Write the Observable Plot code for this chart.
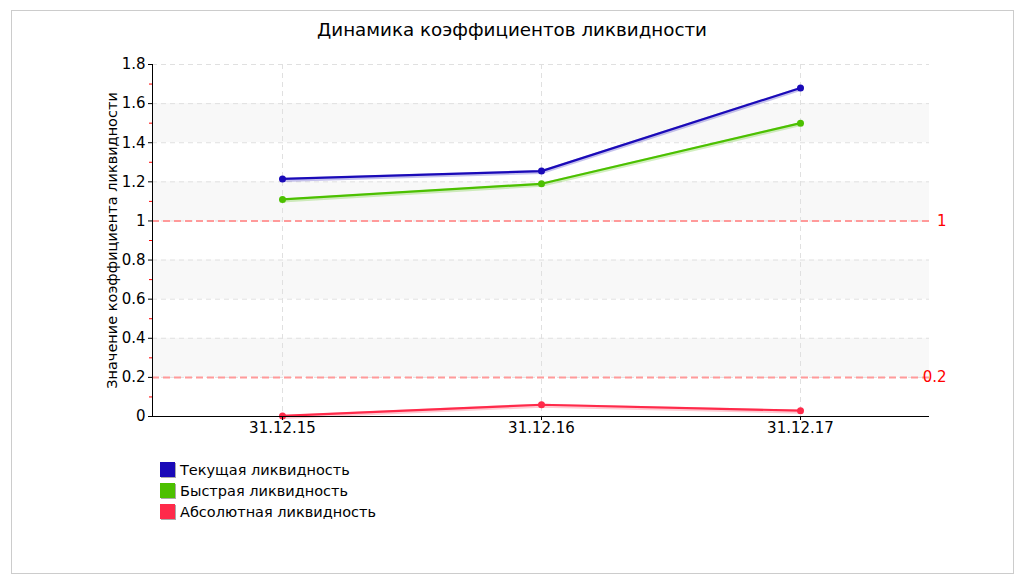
<!DOCTYPE html>
<html><head><meta charset="utf-8">
<script src="https://cdn.jsdelivr.net/npm/d3@7"></script>
<script src="https://cdn.jsdelivr.net/npm/@observablehq/plot@0.6"></script>
<style>
body{margin:0;background:#fff;font-family:"DejaVu Sans",sans-serif;}
#wrap{position:relative;width:1024px;height:584px;overflow:hidden;}
#border{position:absolute;left:11px;top:10px;width:1001px;height:562px;border:1px solid #ccc;}
#title{position:absolute;left:0;top:19px;width:1024px;text-align:center;font-size:18.3px;color:#000;}
#chart{position:absolute;left:0;top:0;}
#legend{position:absolute;left:160px;top:459px;font-size:14.5px;color:#000;}
.item{height:21px;display:flex;align-items:center;}
.sw{width:15px;height:15px;margin-right:5px;box-shadow:1px 1px 0 #aaa;}
</style></head>
<body><div id="wrap"><div id="border"></div><div id="title"></div><div id="chart"></div><div id="legend"></div></div>
<script>
const title = "Динамика коэффициентов ликвидности";
const yLabel = "Значение коэффициента ликвидности";
const dates = ["31.12.15", "31.12.16", "31.12.17"];
const seriesNames = ["Текущая ликвидность", "Быстрая ликвидность", "Абсолютная ликвидность"];
const seriesColors = ["#1a0ab8", "#4cc000", "#ff2a4a"];
const currentRatio = [1.215, 1.255, 1.68];
const quickRatio = [1.11, 1.19, 1.50];
const absoluteRatio = [0.003, 0.06, 0.03];
const thresholds = [1, 0.2];
const thresholdLabels = ["1", "0.2"];
const yTicks = [0, 0.2, 0.4, 0.6, 0.8, 1, 1.2, 1.4, 1.6, 1.8];
const yMinorTicks = [0.1, 0.3, 0.5, 0.7, 0.9, 1.1, 1.3, 1.5, 1.7];
const bands = [[0.2, 0.4], [0.6, 0.8], [1.0, 1.2], [1.4, 1.6]];

const allSeries = [currentRatio, quickRatio, absoluteRatio];
const data = [];
allSeries.forEach((vals, i) => vals.forEach((v, j) => data.push({series: seriesNames[i], date: dates[j], value: v})));

document.getElementById("title").textContent = title;
const leg = document.getElementById("legend");
seriesNames.forEach((n, i) => {
  const d = document.createElement("div"); d.className = "item";
  d.innerHTML = `<span class="sw" style="background:${seriesColors[i]}"></span><span>${n}</span>`;
  leg.appendChild(d);
});

const fmt = d => String(+d.toFixed(1));
const plot = Plot.plot({
  width: 1024, height: 584,
  marginLeft: 152, marginRight: 95, marginTop: 64, marginBottom: 168,
  style: {fontFamily: "DejaVu Sans, sans-serif", fontSize: "15px", color: "#000", background: "transparent"},
  x: {type: "point", domain: dates, padding: 0.5},
  y: {domain: [0, 1.8]},
  color: {domain: seriesNames, range: seriesColors},
  marks: [
    Plot.rect(bands, {y1: d => d[0], y2: d => d[1], fill: "#f8f8f8"}),
    Plot.gridY(yTicks, {stroke: "#e0e0e0", strokeOpacity: 1, strokeDasharray: "5,4"}),
    Plot.gridX(dates, {stroke: "#e0e0e0", strokeOpacity: 1, strokeDasharray: "5,4"}),
    Plot.ruleY(thresholds, {stroke: "#ff9a9a", strokeWidth: 2, strokeDasharray: "7,4"}),
    Plot.text(thresholds, {y: d => d, text: (d, i) => thresholdLabels[i], frameAnchor: "right", textAnchor: "end", dx: 17, fill: "#ff0000", fontSize: 15}),
    Plot.line(data, {x: "date", y: "value", z: "series", stroke: "series", strokeWidth: 4, strokeOpacity: 0.25, dy: 1}),
    Plot.line(data, {x: "date", y: "value", z: "series", stroke: "series", strokeWidth: 2.2}),
    Plot.dot(data, {x: "date", y: "value", fill: "series", r: 3.5}),
    Plot.axisY({ticks: yMinorTicks, tickFormat: () => "", tickSize: 3, stroke: "#ff0000", label: null}),
    Plot.axisY({ticks: yTicks, tickFormat: fmt, tickSize: 4, tickPadding: 3, label: null, fontSize: 15}),
    Plot.axisX({ticks: dates, tickSize: 4, tickPadding: 2, label: null, fontSize: 15}),
    Plot.ruleY([0], {stroke: "#000"}),
    Plot.frame({anchor: "left", stroke: "#000"}),
    Plot.text([yLabel], {frameAnchor: "left", textAnchor: "middle", rotate: -90, dx: -40, fontSize: 14.5, fill: "#000"})
  ]
});
document.getElementById("chart").appendChild(plot);
</script></body></html>
